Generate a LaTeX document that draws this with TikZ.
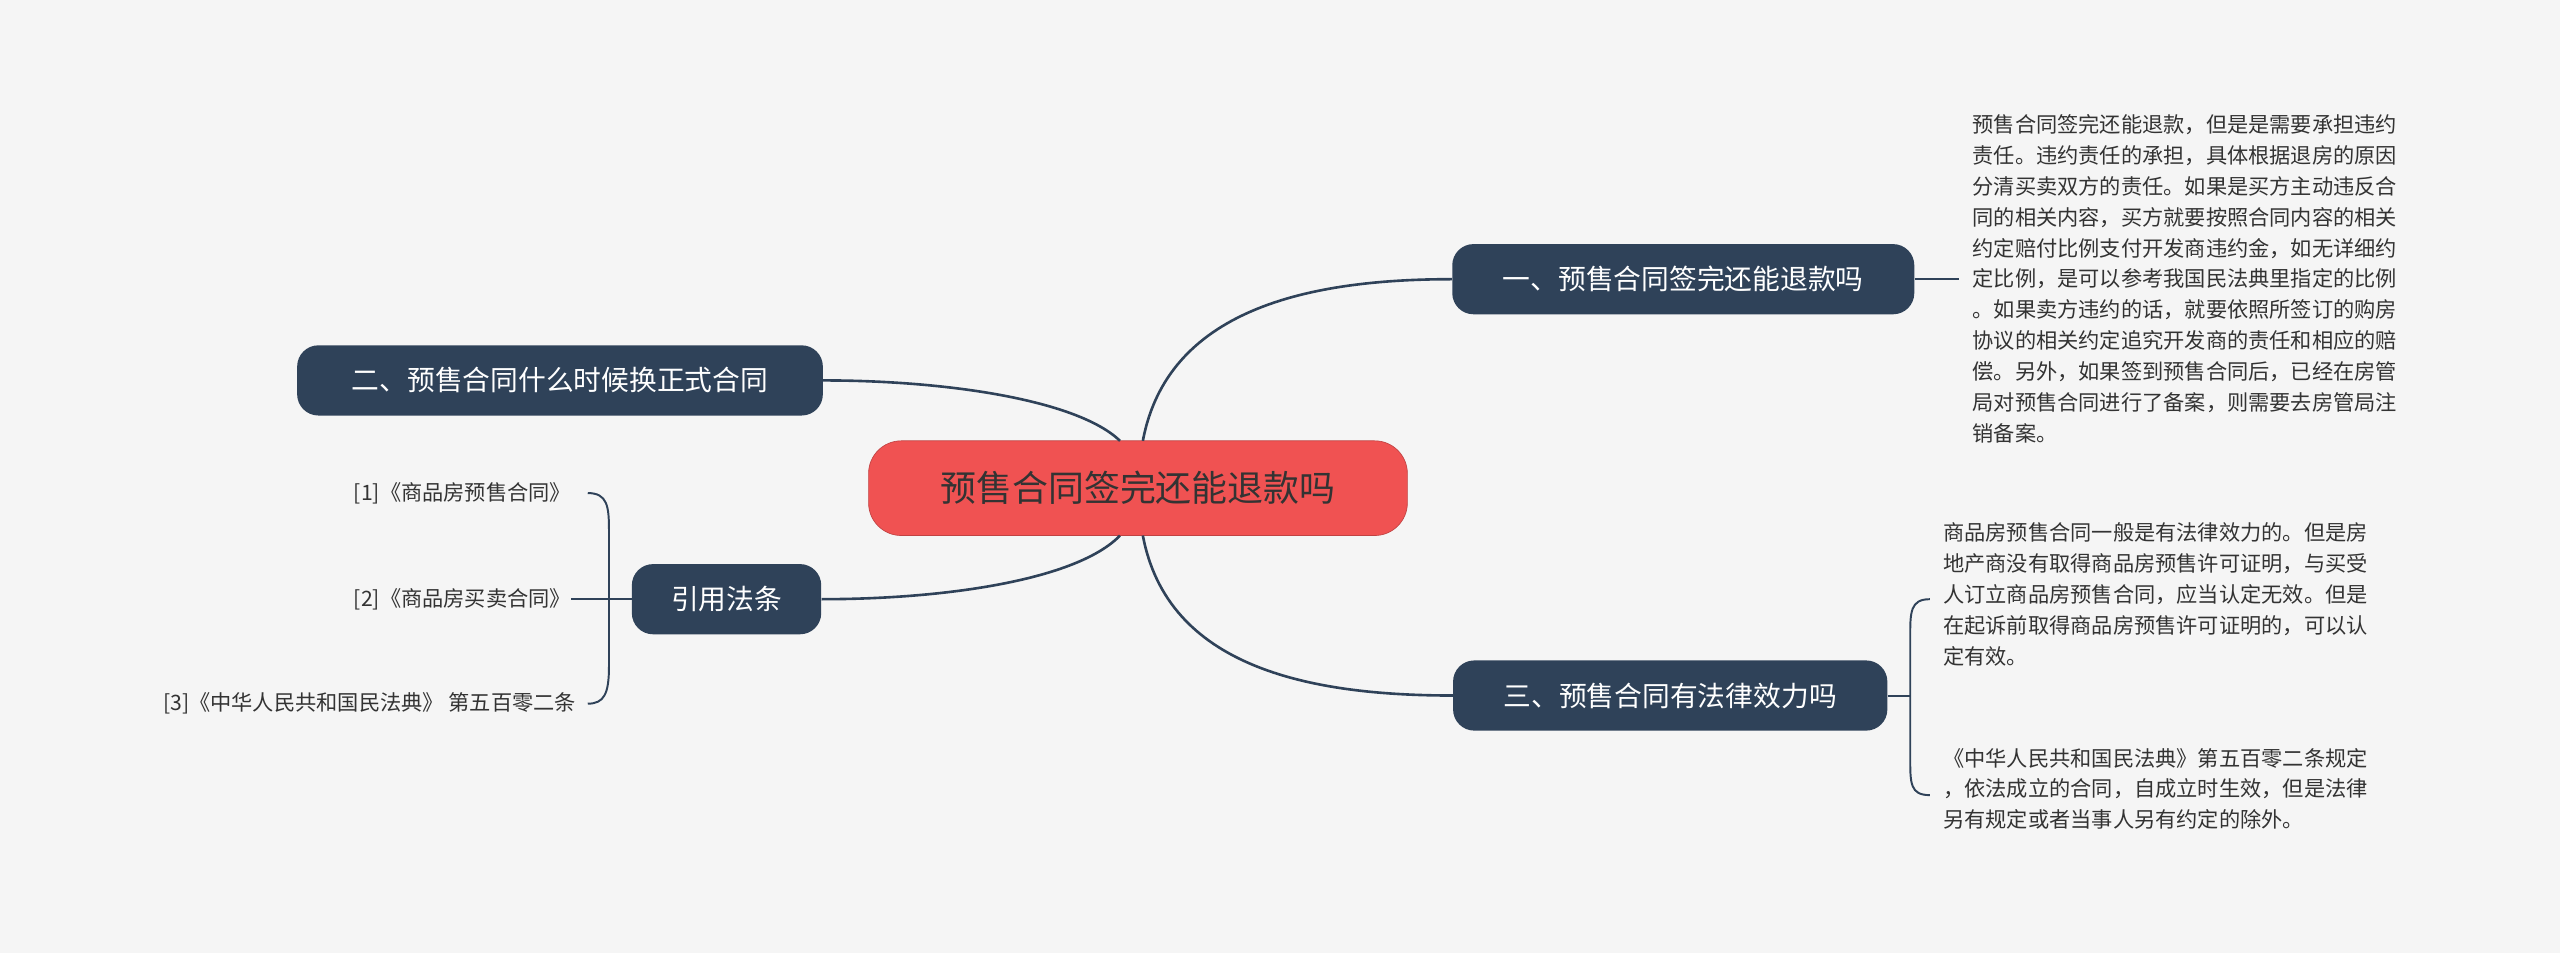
\documentclass[tikz,border=0pt]{standalone}
\usepackage{fontspec}
\setmainfont{Noto Sans CJK SC}
\begin{document}
\begin{tikzpicture}[x=1pt,y=-1pt,
  topic/.style={draw=none,fill=navy,rounded corners=13pt,text=white,font=\fontsize{17}{20}\selectfont,minimum height=43pt,inner xsep=14pt},
  para/.style={anchor=north west,align=left,inner sep=0pt,text=txt,font=\fontsize{13}{18.9}\selectfont},
  leaf/.style={anchor=east,inner sep=0pt,text=txt,font=\fontsize{13}{16}\selectfont},
  link/.style={draw=navy,line width=1.6pt}]
\definecolor{navy}{HTML}{2F4259}
\definecolor{txt}{HTML}{333333}
\definecolor{bg}{HTML}{F5F5F5}
\definecolor{redc}{HTML}{F05252}
\fill[bg] (0,0) rectangle (1568,584);
\useasboundingbox (0,0) rectangle (1568,584);
\node[fill=redc,draw=redc!80!black,rounded corners=20pt,minimum width=330pt,minimum height=58pt,text=txt,font=\fontsize{22}{26}\selectfont] (c) at (697,299) {预售合同签完还能退款吗};
\node[topic,minimum width=283pt] (r1) at (1031,171) {一、预售合同签完还能退款吗};
\node[topic,minimum width=266pt] (r3) at (1023,426) {三、预售合同有法律效力吗};
\node[topic,minimum width=322pt] (l2) at (343,233) {二、预售合同什么时候换正式合同};
\node[topic,minimum width=116pt] (l1) at (445,367) {引用法条};
\coordinate (ct1) at (700,270); \coordinate (cb1) at (700,328);
\coordinate (ct2) at (686,270); \coordinate (cb2) at (686,328);
\draw[link] (ct1) .. controls (715,190) and (800,171) .. (r1.west);
\draw[link] (cb1) .. controls (715,408) and (800,426) .. (r3.west);
\draw[link] (ct2) .. controls (660,245) and (580,233) .. (l2.east);
\draw[link] (cb2) .. controls (660,355) and (580,367) .. (l1.east);
\node[para] (t1) at (1208,70) {预售合同签完还能退款，但是是需要承担违约\\责任。违约责任的承担，具体根据退房的原因\\分清买卖双方的责任。如果是买方主动违反合\\同的相关内容，买方就要按照合同内容的相关\\约定赔付比例支付开发商违约金，如无详细约\\定比例，是可以参考我国民法典里指定的比例\\。如果卖方违约的话，就要依照所签订的购房\\协议的相关约定追究开发商的责任和相应的赔\\偿。另外，如果签到预售合同后，已经在房管\\局对预售合同进行了备案，则需要去房管局注\\销备案。};
\coordinate (t1a) at (1200,171);
\draw[link,line width=1.2pt] (r1.east) -- (t1a);
\node[para] (t3a) at (1190,320) {商品房预售合同一般是有法律效力的。但是房\\地产商没有取得商品房预售许可证明，与买受\\人订立商品房预售合同，应当认定无效。但是\\在起诉前取得商品房预售许可证明的，可以认\\定有效。};
\node[para] (t3b) at (1190,458) {《中华人民共和国民法典》第五百零二条规定\\，依法成立的合同，自成立时生效，但是法律\\另有规定或者当事人另有约定的除外。};
\coordinate (b3t) at (1182,367); \coordinate (b3b) at (1182,487);
\draw[link,line width=1.2pt] (r3.east) -- (1170,426);
\draw[link,line width=1.2pt] (b3t) .. controls (1170,367) and (1170,375) .. (1170,390) -- (1170,464) .. controls (1170,480) and (1170,487) .. (b3b);
\node[leaf] (a1) at (350,302) {[1]《商品房预售合同》};
\node[leaf] (a2) at (350,367) {[2]《商品房买卖合同》};
\node[leaf] (a3) at (353,431) {[3]《中华人民共和国民法典》 第五百零二条};
\draw[link,line width=1.2pt] (l1.west) -- (a2.east);
\draw[link,line width=1.2pt] (a1.east) ++(10,0) .. controls (372,302) and (373,310) .. (373,325) -- (373,408) .. controls (373,425) and (370,431) .. (360,431);
\end{tikzpicture}
\end{document}
